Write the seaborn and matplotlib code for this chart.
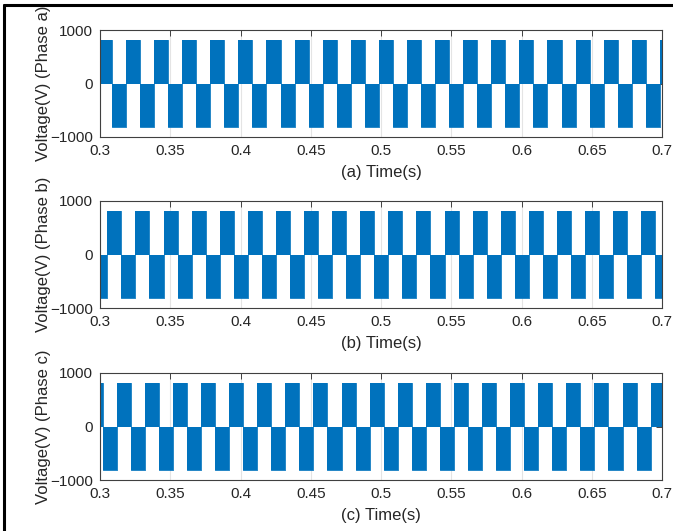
import numpy as np
import seaborn as sns
import matplotlib.pyplot as plt
from matplotlib.lines import Line2D

# rising zero crossings (start of each positive half cycle)
phase_a_rise = [0.2985, 0.3185, 0.3385, 0.3585, 0.3785, 0.3985, 0.4185, 0.4385, 0.4585, 0.4785,
                0.4985, 0.5185, 0.5385, 0.5585, 0.5785, 0.5985, 0.6185, 0.6385, 0.6585, 0.6785, 0.6985]
phase_b_rise = [0.2852, 0.3052, 0.3252, 0.3452, 0.3652, 0.3852, 0.4052, 0.4252, 0.4452, 0.4652,
                0.4852, 0.5052, 0.5252, 0.5452, 0.5652, 0.5852, 0.6052, 0.6252, 0.6452, 0.6652, 0.6852]
phase_c_rise = [0.2919, 0.3119, 0.3319, 0.3519, 0.3719, 0.3919, 0.4119, 0.4319, 0.4519, 0.4719,
                0.4919, 0.5119, 0.5319, 0.5519, 0.5719, 0.5919, 0.6119, 0.6319, 0.6519, 0.6719, 0.6919]
half_cycle = 0.01
amplitude = 820

phases = ['a', 'b', 'c']
rises = [phase_a_rise, phase_b_rise, phase_c_rise]
x_ticks = [0.3, 0.35, 0.4, 0.45, 0.5, 0.55, 0.6, 0.65, 0.7]
x_tick_labels = ['0.3', '0.35', '0.4', '0.45', '0.5', '0.55', '0.6', '0.65', '0.7']
y_ticks = [-1000, 0, 1000]

sns.set_style('white')
plt.rcParams['font.family'] = ['Liberation Sans', 'DejaVu Sans']

blue = '#0072BD'
fig = plt.figure(figsize=(6.73, 5.31), dpi=100)
W, H = 673, 531
boxes = [(30, 137), (201, 308), (373, 480)]


def block_wave(rise):
    t, v = [], []
    for r in rise:
        t += [r, r, r + half_cycle, r + half_cycle, r + half_cycle, r + 2 * half_cycle, r + 2 * half_cycle]
        v += [0, amplitude, amplitude, 0, -amplitude, -amplitude, 0]
    return np.array(t), np.array(v)


for ph, rise, (top, bot) in zip(phases, rises, boxes):
    ax = fig.add_axes([100 / W, 1 - bot / H, 562 / W, (bot - top) / H])
    t, v = block_wave(rise)
    ax.fill_between(t, 0, v, color=blue, linewidth=0)
    sns.lineplot(x=t, y=v, sort=False, estimator=None, color=blue, linewidth=0.6, ax=ax)
    ax.set_xlim(0.3, 0.7)
    ax.set_ylim(-1000, 1000)
    ax.set_xticks(x_ticks)
    ax.set_xticklabels(x_tick_labels)
    ax.set_yticks(y_ticks)
    ax.grid(axis='x', color='#e4e4e4', linewidth=0.8)
    ax.set_axisbelow(True)
    ax.tick_params(direction='in', length=4, width=0.6, colors='#262626',
                   top=True, right=True, labelsize=11, pad=5)
    for s in ax.spines.values():
        s.set_color('#404040')
        s.set_linewidth(0.8)
    ax.set_ylabel(f'Voltage(V) (Phase {ph})', fontsize=12, color='#262626')
    ax.yaxis.set_label_coords(-0.088, 0.5)
    ax.set_xlabel(f'({ph}) Time(s)', fontsize=12, color='#262626', labelpad=5)

# black frame on top and left edges
fig.add_artist(Line2D([4 / W, 1], [1 - 5 / H, 1 - 5 / H], color='black', linewidth=2.2,
                      transform=fig.transFigure))
fig.add_artist(Line2D([4 / W, 4 / W], [0, 1 - 5 / H], color='black', linewidth=2.2,
                      transform=fig.transFigure))

fig.savefig('out.png', dpi=100)
